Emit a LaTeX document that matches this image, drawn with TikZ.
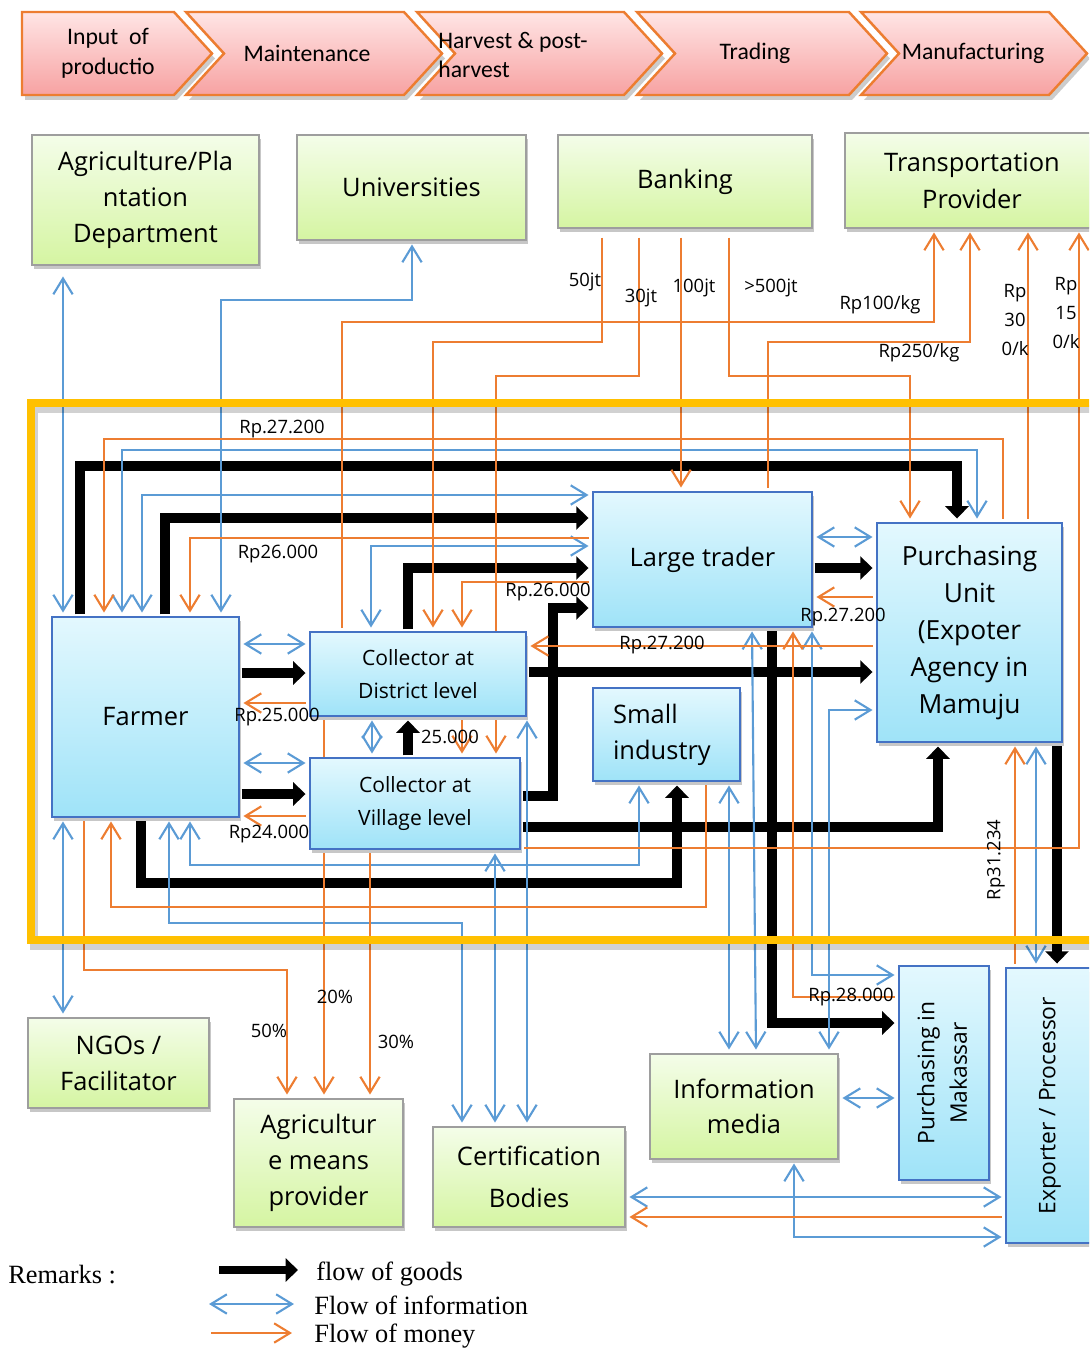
\documentclass[tikz,border=0pt]{standalone}
\usepackage{fontspec}
\usepackage{graphicx}
\setmainfont{Open Sans}
\newfontfamily\chevfont{Carlito}
\newfontfamily\remfont{Liberation Serif}
\usetikzlibrary{arrows.meta, shadows, calc}
\pgfdeclarelayer{links}
\pgfsetlayers{links,main}

\definecolor{infoblue}{HTML}{5B9BD5}
\definecolor{moneyorange}{HTML}{ED7D31}
\definecolor{frameyellow}{HTML}{FFC000}
\definecolor{boxline}{HTML}{4472C4}
\definecolor{boxtop}{HTML}{E3F8FE}
\definecolor{boxbottom}{HTML}{9FE3F8}
\definecolor{greentop}{HTML}{F4FDE9}
\definecolor{greenbottom}{HTML}{D5F5A2}
\definecolor{chevtop}{HTML}{FFE5E5}
\definecolor{chevbottom}{HTML}{F7A2A2}

\tikzstyle{actor} = [rectangle, draw=boxline, line width=1.1pt, top color=boxtop, bottom color=boxbottom, align=center, inner sep=0pt, font=\fontsize{14.5}{20.5}\selectfont, drop shadow={shadow xshift=1pt, shadow yshift=-2pt, fill=black!22, opacity=1}]
\tikzstyle{support} = [rectangle, draw=black!38, line width=1.1pt, top color=greentop, bottom color=greenbottom, align=center, inner sep=0pt, font=\fontsize{14.5}{20.5}\selectfont, drop shadow={shadow xshift=1pt, shadow yshift=-2pt, fill=black!22, opacity=1}]
\tikzstyle{goods} = [line width=5.6pt, -{Triangle[length=7pt,width=13pt]}, shorten >=2pt, shorten <=1pt]
\tikzstyle{info} = [infoblue, line width=1.2pt, {Straight Barb[length=9pt,width=11pt]}-{Straight Barb[length=9pt,width=11pt]}, shorten >=2pt, shorten <=2pt]
\tikzstyle{money} = [moneyorange, line width=1.2pt, -{Straight Barb[length=9pt,width=11pt]}, shorten >=2pt, shorten <=2pt]

\begin{document}
\begin{tikzpicture}[x=0.02cm, y=-0.02cm,
    stage/.style={inner sep=0pt, align=center, font=\chevfont\fontsize{13.5}{17}\selectfont},
    price/.style={inner sep=0pt, align=center, font=\fontsize{10.5}{16.5}\selectfont},
    remark/.style={inner sep=0pt, anchor=west, font=\remfont\fontsize{15}{18}\selectfont}
  ]
    \useasboundingbox (0,0) rectangle (1089,1348);
    \clip (0,0) rectangle (1089,1348);

    % Value chain
    \foreach \l/\r/\n in {22/212/0, 186/442/38, 417/662/38, 637/887/38, 861/1087/38}
      \fill[black!20, shift={(3,5)}] (\l,12) -- ({\r-38},12) -- (\r,53.5) -- ({\r-38},95) -- (\l,95) -- ({\l+\n},53.5) -- cycle;
    \foreach \l/\r/\n in {22/212/0, 186/442/38, 417/662/38, 637/887/38, 861/1087/38}
      \shadedraw[top color=chevtop, bottom color=chevbottom, draw=moneyorange, line width=1.4pt] (\l,12) -- ({\r-38},12) -- (\r,53.5) -- ({\r-38},95) -- (\l,95) -- ({\l+\n},53.5) -- cycle;
    \node[stage] (input) at (108,53) {Input\ \ of\\productio};
    \node[stage] (maint) at (307,53) {Maintenance};
    \node[stage, anchor=west, align=left] (harvest) at (438,55) {Harvest \& post-\\harvest};
    \node[stage] (trading) at (755,53) {Trading};
    \node[stage] (manuf) at (973,53) {Manufacturing};

    % Supporting institutions
    \node[support, minimum width=4.54cm, minimum height=2.6cm] (agri) at (145.5,200) {Agriculture/Pla\\ntation\\Department};
    \node[support, minimum width=4.58cm, minimum height=2.1cm] (univ) at (411.5,187.5) {Universities};
    \node[support, minimum width=5.08cm, minimum height=1.86cm] (bank) at (685,181.5) {Banking};
    \node[support, minimum width=5.08cm, minimum height=1.9cm, font=\fontsize{14.5}{21}\selectfont] (trans) at (972,180.5) {Transportation\\Provider};
    \node[support, minimum width=3.62cm, minimum height=1.8cm] (ngo) at (118.5,1063) {NGOs /\\Facilitator};
    \node[support, minimum width=3.38cm, minimum height=2.56cm] (means) at (318.5,1163) {Agricultur\\e means\\provider};
    \node[support, minimum width=3.84cm, minimum height=2.0cm, font=\fontsize{14.5}{24}\selectfont] (cert) at (529,1177) {Certification\\Bodies};
    \node[support, minimum width=3.76cm, minimum height=2.1cm, font=\fontsize{14.5}{20}\selectfont] (media) at (744,1106.5) {Information\\media};

    % Chain actors
    \node[actor, minimum width=3.74cm, minimum height=4.0cm] (farmer) at (145.5,717) {Farmer};
    \node[actor, minimum width=4.32cm, minimum height=1.68cm, font=\fontsize{12}{19}\selectfont] (cdist) at (418,674) {Collector at\\District level};
    \node[actor, minimum width=4.2cm, minimum height=1.82cm, font=\fontsize{12}{19}\selectfont] (cvill) at (415,803.5) {Collector at\\Village level};
    \node[actor, minimum width=4.38cm, minimum height=2.7cm] (trader) at (702.5,559.5) {Large trader};
    \node[actor, minimum width=3.7cm, minimum height=4.38cm, font=\fontsize{15}{21}\selectfont] (pu) at (969.5,632.5) {Purchasing\\Unit\\(Expoter\\Agency in\\Mamuju};
    \node[actor, minimum width=2.94cm, minimum height=1.86cm, text width=2.14cm, align=left] (small) at (666.5,734.5) {Small\\industry};
    \node[actor, minimum width=1.8cm, minimum height=4.28cm, font=\fontsize{13}{18.5}\selectfont] (makassar) at (944,1073) {\rotatebox{90}{\begin{tabular}{@{}c@{}}Purchasing in\\Makassar\end{tabular}}};
    \node[actor, minimum width=1.76cm, minimum height=5.5cm, font=\fontsize{13}{18.5}\selectfont] (exporter) at (1050,1105.5) {\rotatebox{90}{Exporter / Processor}};

    \begin{pgfonlayer}{links}
    \clip (0,0) rectangle (1089,1348);
    % Flow of goods
    \draw[goods] (80,0 |- farmer.north) |- (957,466) -- (957,0 |- pu.north);
    \draw[goods] (165,0 |- farmer.north) |- (trader.west |- 0,518);
    \draw[goods] (farmer.east |- 0,673) -- (cdist.west |- 0,673);
    \draw[goods] (farmer.east |- 0,794) -- (cvill.west |- 0,794);
    \draw[goods] (408,0 |- cdist.north) |- (trader.west |- 0,568);
    \draw[goods] (408,0 |- cvill.north) -- (408,0 |- cdist.south);
    \draw[goods] (cvill.east |- 0,796) -| (553,608) -- (trader.west |- 0,608);
    \draw[goods] (cdist.east |- 0,672) -- (pu.west |- 0,672);
    \draw[goods] (cvill.east |- 0,827) -| (938,0 |- pu.south);
    \draw[goods] (141,0 |- farmer.south) |- (677,883) -- (677,0 |- small.south);
    \draw[goods] (772,0 |- trader.south) |- (makassar.west |- 0,1023);
    \draw[goods] (trader.east |- 0,568) -- (pu.west |- 0,568);
    \draw[goods] (1057,0 |- pu.south) -- (1057,0 |- exporter.north);

    % Flow of information
    \draw[info, shorten <=6pt] (63,0 |- agri.south) -- (63,0 |- farmer.north);
    \draw[info] (221,0 |- farmer.north) |- (412,300) -- (412,0 |- univ.south);
    \draw[info] (122,0 |- farmer.north) |- (977,450) -- (977,0 |- pu.north);
    \draw[info] (142,0 |- farmer.north) |- (trader.west |- 0,495);
    \draw[info] (371,0 |- cdist.north) |- (trader.west |- 0,546);
    \draw[info] (farmer.east |- 0,644) -- (cdist.west |- 0,644);
    \draw[info] (farmer.east |- 0,763) -- (cvill.west |- 0,763);
    \draw[info] (372,0 |- cdist.south) -- (372,0 |- cvill.north);
    \draw[info] (trader.east |- 0,537) -- (pu.west |- 0,537);
    \draw[info] (190,0 |- farmer.south) |- (639,865) -- (639,0 |- small.south);
    \draw[info] (63,0 |- farmer.south) -- (63,0 |- ngo.north);
    \draw[info] (169,0 |- farmer.south) |- (462,923) -- (462,0 |- cert.north);
    \draw[info] (495,0 |- cvill.south) -- (495,0 |- cert.north);
    \draw[info] (527,0 |- cdist.south) -- (527,0 |- cert.north);
    \draw[info] (729,0 |- small.south) -- (729,0 |- media.north);
    \draw[info] (752,0 |- trader.south) -- (756,0 |- media.north);
    \draw[info] (812,0 |- trader.south) |- (makassar.west |- 0,975);
    \draw[info] (829,0 |- media.north) |- (pu.west |- 0,710);
    \draw[info] (1036,0 |- pu.south) -- (1036,0 |- exporter.north);
    \draw[info] (media.east |- 0,1098) -- (makassar.west |- 0,1098);
    \draw[info] (cert.east |- 0,1197) -- (exporter.west |- 0,1197);
    \draw[info] (794,0 |- media.south) |- (exporter.west |- 0,1237);

    % Flow of money
    \draw[money, shorten <=5pt] (602,0 |- bank.south) |- (433,342) -- (433,0 |- cdist.north);
    \draw[money, shorten <=5pt] (639,0 |- bank.south) |- (496,376) -- (496,0 |- cvill.north);
    \draw[money, shorten <=5pt] (681,0 |- bank.south) -- (681,0 |- trader.north);
    \draw[money, shorten <=5pt] (729,0 |- bank.south) |- (910,376) -- (910,0 |- pu.north);
    \draw[money] (342,0 |- cdist.north) |- (934,322) -- (934,0 |- trans.south);
    \draw[money] (768,0 |- trader.north) |- (970,342) -- (970,0 |- trans.south);
    \draw[money] (1028,0 |- pu.north) -- (1028,0 |- trans.south);
    \draw[money] (cvill.east |- 0,848) -| (1079,0 |- trans.south);
    \draw[money] (1003,0 |- pu.north) |- (104,439) -- (104,0 |- farmer.north);
    \draw[money] (trader.west |- 0,538) -| (190,0 |- farmer.north);
    \draw[money] (trader.west |- 0,582) -| (462,0 |- cdist.north);
    \draw[money] (cdist.west |- 0,703) -- (farmer.east |- 0,703);
    \draw[money] (cvill.west |- 0,816) -- (farmer.east |- 0,816);
    \draw[money] (462,0 |- cdist.south) -- (462,0 |- cvill.north);
    \draw[money] (pu.west |- 0,597) -- (trader.east |- 0,597);
    \draw[money] (pu.west |- 0,646) -- (cdist.east |- 0,646);
    \draw[money] (makassar.west |- 0,997) -| (793,0 |- trader.south);
    \draw[money] (1015,0 |- exporter.north) -- (1015,0 |- pu.south);
    \draw[money] (exporter.west |- 0,1217) -- (cert.east |- 0,1217);
    \draw[money] (84,0 |- farmer.south) |- (287,970) -- (287,0 |- means.north);
    \draw[money] (324,0 |- cdist.south) -- (324,0 |- means.north);
    \draw[money] (370,0 |- cvill.south) -- (370,0 |- means.north);
    \draw[money] (706,0 |- small.south) |- (111,907) -- (111,0 |- farmer.south);

    % Mamuju frame
    \draw[black, opacity=0.18, line width=4pt, shift={(3,6)}] (31,403) rectangle (1110,940);
    \draw[frameyellow, line width=4pt] (31,403) rectangle (1110,940);
    \end{pgfonlayer}

    % Prices and shares
    \node[price] (fund50) at (585,282) {50jt};
    \node[price] (fund30) at (641,298) {30jt};
    \node[price] (fund100) at (694,288) {100jt};
    \node[price] (fund500) at (771,288) {>500jt};
    \node[price] (fee100) at (880,305) {Rp100/kg};
    \node[price] (fee250) at (919,353) {Rp250/kg};
    \node[price] (fee300) at (1015,320) {Rp\\30\\0/k};
    \node[price] (fee150) at (1066,313) {Rp\\15\\0/k};
    \node[price] (pFarmPU) at (282,429) {Rp.27.200};
    \node[price] (pFarmLT) at (278,554) {Rp26.000};
    \node[price] (pCdLT) at (548,592) {Rp.26.000};
    \node[price] (pLtPU) at (843,617) {Rp.27.200};
    \node[price] (pCdPU) at (662,645) {Rp.27.200};
    \node[price] (pFarmCd) at (277,717) {Rp.25.000};
    \node[price] (pCvCd) at (450,737) {25.000};
    \node[price] (pFarmCv) at (269,834) {Rp24.000};
    \node[price, rotate=90] (pPuExp) at (996,860) {Rp31.234};
    \node[price] (pLtMak) at (851,997) {Rp.28.000};
    \node[price] (share20) at (335,997) {20\%};
    \node[price] (share50) at (269,1031) {50\%};
    \node[price] (share30) at (396,1042) {30\%};

    % Remarks
    \node[remark] (remarks) at (8,1275) {Remarks :};
    \coordinate (goodsA) at (219,1270);
    \coordinate (goodsB) at (298,1270);
    \coordinate (infoA) at (209,1304);
    \coordinate (infoB) at (294,1304);
    \coordinate (moneyA) at (211,1333);
    \coordinate (moneyB) at (292,1333);
    \draw[goods, line width=4.2pt, shorten <=0pt, shorten >=0pt] (goodsA) -- (goodsB);
    \draw[info, shorten <=0pt, shorten >=0pt] (infoA) -- (infoB);
    \draw[money, shorten <=0pt, shorten >=0pt] (moneyA) -- (moneyB);
    \node[remark] (goodsTxt) at (316,1274) {flow of goods};
    \node[remark] (infoTxt) at (314,1305) {Flow of information};
    \node[remark] (moneyTxt) at (314,1336) {Flow of money};
  \end{tikzpicture}
\end{document}
